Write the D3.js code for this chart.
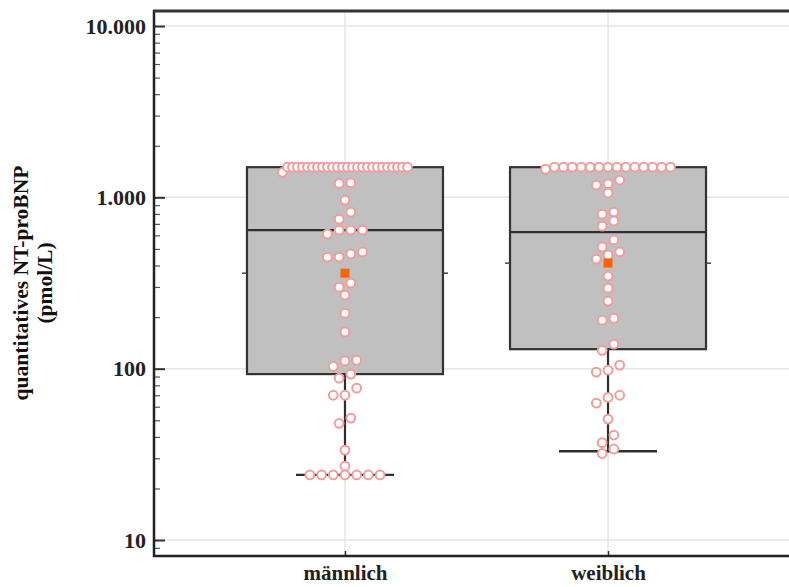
<!DOCTYPE html>
<html><head><meta charset="utf-8">
<script src="https://cdn.jsdelivr.net/npm/d3@7"></script>
<style>body{margin:0;background:#fff}svg{display:block}</style>
</head><body>
<svg id="chart" width="789" height="587"></svg>
<script>
// ---- data ----
const categories = ["männlich", "weiblich"];
const maleValues = [
  1500,1500,1500,1500,1500,1500,1500,1500,1500,1500,1500,1500,1500,1500,1500,1500,1500,1500,1500,1500,1500,1500,1500,1500,1500,
  1400, 1215, 1205, 964, 820, 746, 644, 644, 644, 611, 480, 467, 448, 448,
  316, 299, 269, 211, 164, 112, 111, 103, 93, 88, 77, 70, 70, 51.5, 48, 33.5, 27,
  24, 24, 24, 24, 24, 24, 24
];
const femaleValues = [
  1500,1500,1500,1500,1500,1500,1500,1500,1500,1500,1500,1500,1500,1500,1460,
  1262, 1200, 1180, 1059, 820, 798, 728, 679, 564, 513, 480, 461, 436,
  347, 295, 248, 197, 192, 139, 128, 105, 98, 95.5, 70, 68, 63, 50.8, 41, 37, 34, 32
];
const boxMin = [24, 33];
const boxQ1 = [93, 130];
const boxMedian = [644, 627];
const boxQ3 = [1500, 1500];
const boxMax = [1500, 1500];
const boxMean = [361, 413];
const yTickValues = [10, 100, 1000, 10000];
const yTickLabels = ["10", "100", "1.000", "10.000"];
const yTitleLines = ["quantitatives NT-proBNP", "(pmol/L)"];

(function () {
const svg = d3.select("#chart");
const pLeft = 154, pTop = 11, pBottom = 556, pRight = 789;
const font = "'Liberation Serif','Times New Roman',serif";

const x = d3.scalePoint().domain(categories).range([154, 799]).padding(0.726);
const y = d3.scaleLog().domain([8.07, 12234]).range([pBottom, pTop]);

const boxHalf = 98, capHalf = 49;

// grid
const grid = svg.append("g");
grid.selectAll("line.h").data(yTickValues).join("line").attr("class", "h")
  .attr("x1", pLeft).attr("x2", pRight)
  .attr("y1", d => y(d)).attr("y2", d => y(d))
  .attr("stroke", "#e6e6e6").attr("stroke-width", 1.5);
grid.selectAll("line.v").data(categories).join("line").attr("class", "v")
  .attr("x1", d => x(d)).attr("x2", d => x(d))
  .attr("y1", pTop).attr("y2", pBottom)
  .attr("stroke", "#e6e6e6").attr("stroke-width", 1.5);

// boxes
const stats = categories.map((c, i) => ({
  c, min: boxMin[i], q1: boxQ1[i], med: boxMedian[i], q3: boxQ3[i], max: boxMax[i], mean: boxMean[i]
}));
const bg = svg.append("g");
stats.forEach(s => {
  const cx = x(s.c);
  bg.append("line").attr("x1", cx).attr("x2", cx).attr("y1", y(s.q1)).attr("y2", y(s.min))
    .attr("stroke", "#2e2e2e").attr("stroke-width", 2.2);
  bg.append("line").attr("x1", cx - capHalf).attr("x2", cx + capHalf).attr("y1", y(s.min)).attr("y2", y(s.min))
    .attr("stroke", "#2e2e2e").attr("stroke-width", 2.4);
  if (s.max > s.q3) {
    bg.append("line").attr("x1", cx).attr("x2", cx).attr("y1", y(s.q3)).attr("y2", y(s.max))
      .attr("stroke", "#2e2e2e").attr("stroke-width", 2.2);
  }
  bg.append("rect").attr("x", cx - boxHalf).attr("width", 2 * boxHalf)
    .attr("y", y(s.q3)).attr("height", y(s.q1) - y(s.q3))
    .attr("fill", "#c0c0c0").attr("stroke", "#333").attr("stroke-width", 2.2);
  bg.append("line").attr("x1", cx - boxHalf).attr("x2", cx + boxHalf).attr("y1", y(s.med)).attr("y2", y(s.med))
    .attr("stroke", "#2e2e2e").attr("stroke-width", 2.2);
  [-1, 1].forEach(k => {
    bg.append("line").attr("x1", cx + k * boxHalf).attr("x2", cx + k * (boxHalf + 5))
      .attr("y1", y(s.mean)).attr("y2", y(s.mean)).attr("stroke", "#444").attr("stroke-width", 1.5);
  });
});

// dot layout (row-binned)
function layout(values, cat) {
  const cx = x(cat);
  const pts = values.map(v => ({ v, py: y(v) })).sort((a, b) => a.py - b.py || b.v - a.v);
  const rows = [];
  let cur = null;
  pts.forEach(p => {
    if (cur && p.py - cur.start < 8.5) cur.items.push(p);
    else { cur = { start: p.py, items: [p] }; rows.push(cur); }
  });
  const out = [];
  rows.forEach(r => {
    const n = r.items.length;
    const sp = n > 1 ? Math.min(11.7, 125 / (n - 1)) : 0;
    r.items.sort((a, b) => a.v - b.v).forEach((p, i) => {
      out.push({ v: p.v, px: cx + (i - (n - 1) / 2) * sp, py: p.py });
    });
  });
  return out;
}
const dots = layout(maleValues, categories[0]).concat(layout(femaleValues, categories[1]));
svg.append("g").selectAll("circle").data(dots).join("circle")
  .attr("cx", d => d.px).attr("cy", d => d.py).attr("r", 4.4)
  .attr("fill", "#fff").attr("stroke", "#f29c9c").attr("stroke-width", 2);

// mean squares
svg.append("g").selectAll("rect").data(stats).join("rect")
  .attr("x", d => x(d.c) - 4.5).attr("y", d => y(d.mean) - 4.5)
  .attr("width", 9).attr("height", 9).attr("fill", "#ff6200");

// axes
const minorTicks = [];
for (let e = 1; e <= 4; e++) for (let m = 2; m <= 9; m++) {
  const v = m * Math.pow(10, e - 1);
  if (v > 8.07 && v < 12234) minorTicks.push(v);
}
const yMinor = svg.append("g").attr("transform", `translate(${pLeft},0)`)
  .call(d3.axisLeft(y).tickValues(minorTicks).tickSize(-6).tickFormat(""));
yMinor.select(".domain").remove();
yMinor.selectAll("line").attr("stroke", "#555").attr("stroke-width", 1.2);

const yAxis = svg.append("g").attr("transform", `translate(${pLeft},0)`)
  .call(d3.axisLeft(y).tickValues(yTickValues).tickSize(-11).tickPadding(8)
    .tickFormat((d, i) => yTickLabels[i]));
yAxis.select(".domain").remove();
yAxis.selectAll(".tick line").attr("stroke", "#333").attr("stroke-width", 2);
yAxis.selectAll(".tick text").attr("font-family", font).attr("font-weight", "bold")
  .attr("font-size", 22).attr("fill", "#222").attr("dy", "0.32em");

const xAxis = svg.append("g").attr("transform", `translate(0,${pBottom})`)
  .call(d3.axisBottom(x).tickSize(-5).tickPadding(0));
xAxis.select(".domain").remove();
xAxis.selectAll(".tick line").attr("stroke", "#333").attr("stroke-width", 1.5);
xAxis.selectAll(".tick text").attr("font-family", font).attr("font-weight", "bold")
  .attr("font-size", 21).attr("fill", "#222").attr("y", 24).attr("dy", 0);

// frame lines
svg.append("line").attr("x1", pLeft).attr("x2", pLeft).attr("y1", pTop - 1).attr("y2", pBottom + 1)
  .attr("stroke", "#222").attr("stroke-width", 2.5);
svg.append("line").attr("x1", pLeft - 1).attr("x2", pRight).attr("y1", pBottom).attr("y2", pBottom)
  .attr("stroke", "#222").attr("stroke-width", 2.5);
svg.append("line").attr("x1", pLeft - 1).attr("x2", pRight).attr("y1", pTop).attr("y2", pTop)
  .attr("stroke", "#333").attr("stroke-width", 3);

// y title
const yt = svg.append("text").attr("transform", "translate(0,283) rotate(-90)")
  .attr("text-anchor", "middle").attr("font-family", font).attr("font-weight", "bold")
  .attr("font-size", 21.5).attr("fill", "#111");
yt.selectAll("tspan").data(yTitleLines).join("tspan")
  .attr("x", 0).attr("y", (d, i) => 28 + i * 24).text(d => d);
})();
</script>
</body></html>
